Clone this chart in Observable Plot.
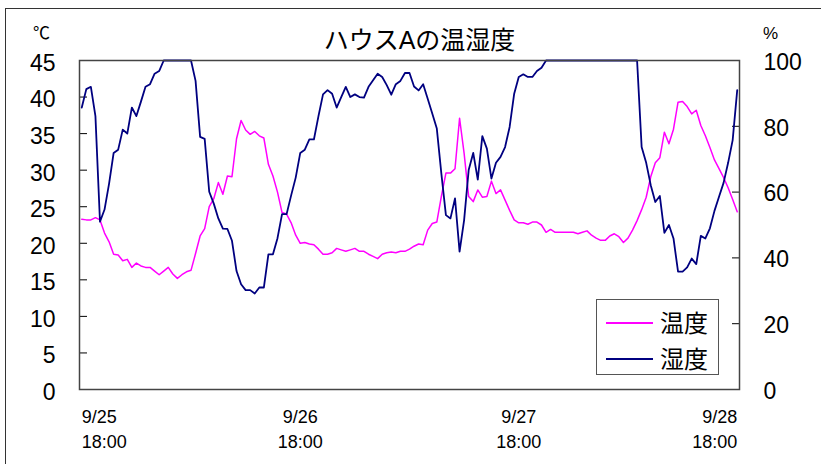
<!DOCTYPE html>
<html><head><meta charset="utf-8">
<script src="https://cdn.jsdelivr.net/npm/d3@7"></script>
<script src="https://cdn.jsdelivr.net/npm/@observablehq/plot@0.6"></script>
<style>
html,body{margin:0;padding:0;background:#fff;}
#wrap{position:relative;width:821px;height:464px;overflow:hidden;background:#fff;}
#border{position:absolute;left:5px;top:8px;width:900px;height:600px;border-left:1.5px solid #333;border-top:1.5px solid #333;}
#chart{position:absolute;left:0;top:0;}
#legend{position:absolute;left:596px;top:299px;width:123px;height:76px;border:1px solid #555;background:#fff;box-sizing:border-box;font-family:"Noto Sans CJK JP",sans-serif;}
#legend .ln{position:absolute;left:9px;width:47px;height:2px;}
#legend .tx{position:absolute;left:63px;font-size:24px;line-height:24px;color:#000;}
</style>
</head><body>
<div id="wrap"><div id="border"></div><div id="chart"></div>
<div id="legend">
<div class="ln" style="top:22px;background:#ff00ff"></div><div class="tx" style="top:10px">温度</div>
<div class="ln" style="top:58px;background:#000080"></div><div class="tx" style="top:46px">湿度</div>
</div></div>
<script>
const title = "ハウスAの温湿度";
const tempTicks = [0,5,10,15,20,25,30,35,40,45];
const humTicks = [0,20,40,60,80,100];
const xTicks = [0,48,96,144];
const xLabels = ["9/25\n18:00","9/26\n18:00","9/27\n18:00","9/28\n18:00"];
// 30-minute samples, 9/25 18:00 .. 9/28 18:00
const temp = [23.3,23.2,23.2,23.5,23.2,21.4,20.2,18.5,18.4,17.6,
17.8,16.7,17.3,16.9,16.7,16.7,16.2,15.7,16.2,16.7,
15.8,15.2,15.7,16.1,16.3,18.6,21.0,22.0,25.0,26.1,
28.3,26.7,29.2,29.1,34.3,36.8,35.5,34.9,35.3,34.7,
34.4,30.8,29.2,27.0,24.2,24.0,22.8,21.1,20.0,20.1,
19.9,19.8,19.2,18.5,18.5,18.7,19.3,19.1,18.9,19.1,
19.3,18.9,18.9,18.5,18.2,17.9,18.5,18.7,18.8,18.7,
18.9,18.9,19.2,19.6,19.9,19.8,21.8,22.7,22.9,26.4,
29.6,29.6,30.2,37.1,32.3,26.4,25.7,27.3,26.3,26.4,
28.5,26.8,27.3,25.9,24.5,23.2,22.8,22.8,22.6,22.9,
22.9,22.5,21.5,21.9,21.5,21.5,21.5,21.5,21.5,21.3,
21.5,21.7,21.1,20.7,20.4,20.4,21.0,21.3,20.9,20.1,
20.7,21.8,23.1,24.6,26.3,29.1,31.0,31.7,35.2,33.6,
35.6,39.3,39.4,38.7,37.7,38.2,36.1,34.7,33.1,31.4,
30.2,29.0,27.6,26.0,24.3];
const hum = [85.7,91.3,92.0,83.1,51.0,54.7,62.6,71.9,72.9,79.0,
77.8,85.7,83.1,87.5,92.0,92.8,96.0,96.8,100,100,
100,100,100,100,100,93.8,76.8,76.2,60.1,56.5,
52.0,48.9,48.8,45.2,36.0,32.0,30.2,30.2,29.2,31.0,
31.0,41.1,41.1,46.0,53.3,53.3,59.0,64.4,71.9,72.9,
76.0,76.0,83.1,89.7,91.0,89.9,85.7,88.9,92.0,88.9,
89.7,88.9,88.7,92.0,94.0,96.0,95.0,92.5,89.6,92.8,
93.8,96.2,96.2,92.1,90.9,92.8,88.4,83.9,79.3,65.6,
53.0,52.0,58.1,41.9,51.5,66.7,71.9,63.8,77.0,73.2,
64.1,68.9,70.7,73.7,79.8,89.9,95.0,95.8,95.0,95.0,
96.8,97.8,100,100,100,100,100,100,100,100,
100,100,100,100,100,100,100,100,100,100,
100,100,100,73.7,68.9,62.1,57.0,58.8,47.6,50.0,
45.9,35.8,35.8,37.1,39.8,38.1,46.7,45.9,49.0,54.3,
58.6,62.8,68.9,75.8,91.0];

const data = temp.map((t, i) => ({i, temp: t, hum: hum[i]}));
const k = 45 / 100; // humidity -> left-axis units
const lab = d => xLabels[xTicks.indexOf(d)];
const xAxisOpts = {tickSize: 0, tickPadding: 15, fontSize: 18, lineHeight: 1.42, label: null, tickFormat: lab};

const chart = Plot.plot({
  width: 821, height: 464,
  marginLeft: 79, marginRight: 82, marginTop: 60, marginBottom: 75,
  style: {fontFamily: '"Liberation Sans","Noto Sans CJK JP",sans-serif', background: "transparent", color: "#000", overflow: "visible"},
  x: {domain: [-0.5, 144.5]},
  y: {domain: [0, 45]},
  marks: [
    Plot.axisY({anchor: "left", ticks: tempTicks, tickSize: -8, tickFormat: () => "", label: null, stroke: "#000"}),
    Plot.axisY({anchor: "left", ticks: tempTicks, tickSize: 0, tickPadding: 24, fontSize: 23, dy: 3, label: null}),
    Plot.axisY({anchor: "right", ticks: humTicks.map(h => h * k), tickSize: -8, tickFormat: () => "", label: null, stroke: "#000"}),
    Plot.axisY({anchor: "right", ticks: humTicks.map(h => h * k), tickSize: 0, tickPadding: 24, fontSize: 23, dy: 2, label: null, tickFormat: d => String(Math.round(d / k))}),
    Plot.axisX({...xAxisOpts, ticks: [xTicks[0]], textAnchor: "start"}),
    Plot.axisX({...xAxisOpts, ticks: xTicks.slice(1, 3), textAnchor: "middle"}),
    Plot.axisX({...xAxisOpts, ticks: [xTicks[3]], textAnchor: "end"}),
    Plot.lineY(data, {x: "i", y: "temp", stroke: "#ff00ff", strokeWidth: 1.5}),
    Plot.lineY(data, {x: "i", y: d => d.hum * k, stroke: "#000080", strokeWidth: 1.8}),
    Plot.frame({stroke: "#444", strokeWidth: 1.5}),
    Plot.text([title], {frameAnchor: "top", lineAnchor: "middle", dx: 10, dy: -20, fontSize: 25, fill: "#000"}),
    Plot.text(["℃"], {frameAnchor: "top-left", lineAnchor: "middle", textAnchor: "middle", dx: -38, dy: -27, fontSize: 17, fill: "#000"}),
    Plot.text(["%"], {frameAnchor: "top-right", lineAnchor: "middle", textAnchor: "middle", dx: 31, dy: -27, fontSize: 17, fill: "#000"})
  ]
});
document.getElementById("chart").appendChild(chart);
</script>
</body></html>
